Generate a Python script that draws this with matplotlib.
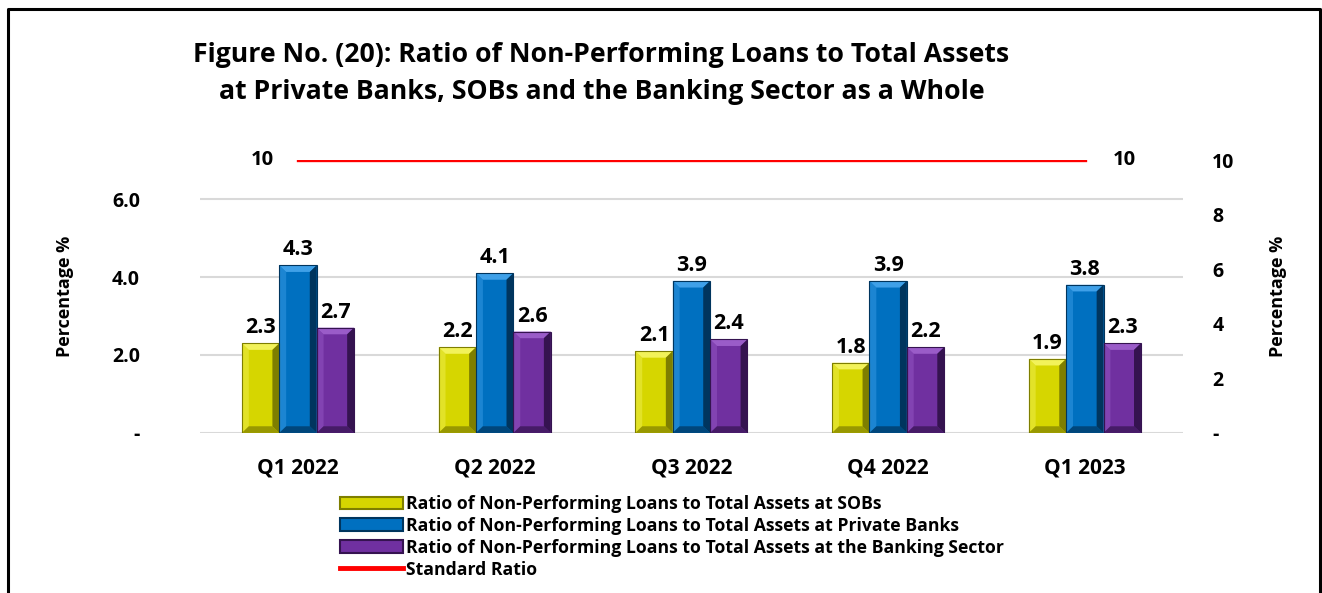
import numpy as np
import matplotlib
matplotlib.use("Agg")
import matplotlib.pyplot as plt
from matplotlib.patches import Polygon, Rectangle
from matplotlib.lines import Line2D

plt.rcParams["font.family"] = ["Open Sans", "DejaVu Sans"]
plt.rcParams["font.weight"] = "bold"

# data
quarters = ["Q1 2022", "Q2 2022", "Q3 2022", "Q4 2022", "Q1 2023"]
sobs = [2.3, 2.2, 2.1, 1.8, 1.9]
private_banks = [4.3, 4.1, 3.9, 3.9, 3.8]
banking_sector = [2.7, 2.6, 2.4, 2.2, 2.3]
standard_ratio = [10, 10, 10, 10, 10]

labels = [
    "Ratio of Non-Performing Loans to Total Assets at SOBs",
    "Ratio of Non-Performing Loans to Total Assets at Private Banks",
    "Ratio of Non-Performing Loans to Total Assets at the Banking Sector",
    "Standard Ratio",
]

# (body, light, dark)
colors = [
    ("#D6D600", "#F2F25A", "#7E7E00"),
    ("#0070C0", "#3FA0E8", "#00355E"),
    ("#7030A0", "#9A5CC8", "#351350"),
]

fig = plt.figure(figsize=(13.22, 5.93), dpi=100)
ax = fig.add_axes([0.151, 0.270, 0.744, 0.460])
ax2 = ax.twinx()

x = np.arange(len(quarters))
w = 0.19


def bevel_bar(ax, rect, body, light, dark):
    x0, y0 = rect.get_x(), rect.get_y()
    x1, y1 = x0 + rect.get_width(), y0 + rect.get_height()
    bx, by = 0.035, 0.17
    ax.add_patch(Polygon([(x0, y1), (x1, y1), (x1 - bx, y1 - by), (x0 + bx, y1 - by)],
                         closed=True, facecolor=light, edgecolor="none", zorder=3))
    ax.add_patch(Polygon([(x0, y0), (x0 + bx, y0 + by), (x0 + bx, y1 - by), (x0, y1)],
                         closed=True, facecolor=light, edgecolor="none", alpha=0.45, zorder=3))
    ax.add_patch(Polygon([(x1, y0), (x1, y1), (x1 - bx, y1 - by), (x1 - bx, y0 + by)],
                         closed=True, facecolor=dark, edgecolor="none", zorder=3))
    ax.add_patch(Polygon([(x0, y0), (x1, y0), (x1 - bx, y0 + by), (x0 + bx, y0 + by)],
                         closed=True, facecolor=dark, edgecolor="none", alpha=0.7, zorder=3))
    ax.add_patch(Rectangle((x0, y0), x1 - x0, y1 - y0, facecolor="none",
                           edgecolor=dark, linewidth=0.8, zorder=4))


for i, (vals, (body, light, dark)) in enumerate(zip([sobs, private_banks, banking_sector], colors)):
    bars = ax.bar(x + (i - 1) * w, vals, w, color=body, zorder=2)
    for b, v in zip(bars, vals):
        bevel_bar(ax, b, body, light, dark)
        ax.text(b.get_x() + w / 2, v + 0.13, f"{v:.1f}", ha="center", va="bottom",
                fontsize=15.5, fontweight="bold", zorder=5)

ax.set_xlim(-0.5, len(quarters) - 0.5)
ax.set_ylim(0, 7)
ax.set_yticks([0, 2, 4, 6])
ax.set_yticklabels(["-", "2.0", "4.0", "6.0"])
ax.yaxis.grid(True, color="#D9D9D9", linewidth=1.5, zorder=0)
ax.set_axisbelow(True)
ax.set_xticks(x)
ax.set_xticklabels(quarters, fontsize=15, fontweight="bold")
ax.tick_params(axis="x", length=0, pad=18)
ax.tick_params(axis="y", length=0, pad=43, labelsize=14)
ax.set_ylabel("Percentage %", fontsize=13, fontweight="bold", labelpad=27)
for s in ax.spines.values():
    s.set_visible(False)

# standard ratio on the secondary axis
ax2.plot(x, standard_ratio, color="#FF0000", linewidth=2.4, zorder=3)
ax2.text(x[0] - 0.18, standard_ratio[0], f"{standard_ratio[0]}", ha="center", va="center",
         fontsize=14.5, fontweight="bold")
ax2.text(x[-1] + 0.2, standard_ratio[-1], f"{standard_ratio[-1]}", ha="center", va="center",
         fontsize=14.5, fontweight="bold")
ax2.set_ylim(0, 10)
ax2.set_yticks([0, 2, 4, 6, 8, 10])
ax2.set_yticklabels(["-", "2", "4", "6", "8", "10"])
ax2.tick_params(axis="y", length=0, pad=21, labelsize=14)
ax2.set_ylabel("Percentage %", fontsize=13, fontweight="bold", labelpad=25)
for s in ax2.spines.values():
    s.set_visible(False)

fig.suptitle("Figure No. (20): Ratio of Non-Performing Loans to Total Assets\n"
             "at Private Banks, SOBs and the Banking Sector as a Whole",
             x=0.455, y=0.93, fontsize=19.2, fontweight="bold", linespacing=1.55)

handles = [Rectangle((0, 0), 1, 1, facecolor=c[0], edgecolor=c[2], linewidth=1.5) for c in colors]
handles.append(Line2D([0], [0], color="#FF0000", linewidth=3.5))
fig.legend(handles, labels, loc="upper left", bbox_to_anchor=(0.257, 0.165),
           frameon=False, fontsize=12.7, handlelength=3.6, handleheight=0.75,
           handletextpad=0.15, labelspacing=0.22, borderaxespad=0, borderpad=0)

# outer frame
fig.add_artist(Line2D([0.006, 0.006, 0.9985, 0.9985], [0.0, 0.985, 0.985, 0.0],
                      transform=fig.transFigure, color="black", linewidth=2.2))

fig.savefig("out.png", dpi=100)
